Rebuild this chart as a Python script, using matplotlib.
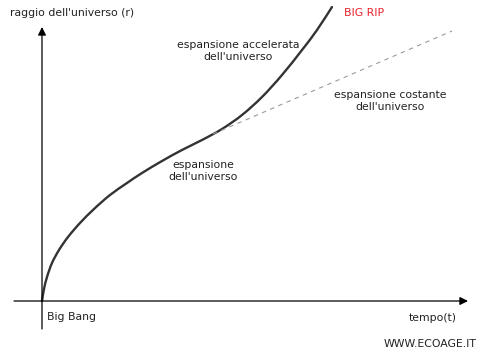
import matplotlib.pyplot as plt
from matplotlib.path import Path
from matplotlib.patches import PathPatch

# curva del raggio dell'universo (tempo, raggio)
tempo = [0, 2, 5, 10, 17, 26, 38, 52, 68, 85, 100, 120, 140, 160, 180, 200,
         220, 240, 260, 275, 290]
raggio = [0, 12, 24, 38, 51, 64, 78, 92, 106, 118, 128, 140, 151, 161, 172,
          186, 204, 226, 251, 271, 294]

# espansione costante (tratteggiata)
tempo_cost = [171, 410]
raggio_cost = [167, 270]

fig = plt.figure(figsize=(5, 3.6), dpi=100)
ax = fig.add_axes([0, 0, 1, 1])
ax.set_xlim(-42, 458)
ax.set_ylim(-59, 301)
ax.axis("off")

# assi con frecce
freccia = dict(arrowstyle="-|>", color="black", lw=0.9,
               mutation_scale=12, shrinkA=0, shrinkB=0)
ax.annotate("", xy=(426, 0), xytext=(-28, 0), arrowprops=freccia)
ax.annotate("", xy=(0, 274), xytext=(0, -28), arrowprops=freccia)

# tratteggiata
ax.plot(tempo_cost, raggio_cost, color="#9a9a9a", lw=0.8, dashes=(4, 4))

# curva morbida (catmull-rom -> bezier) attraverso i punti letti
pts = list(zip(tempo, raggio))
verts = [pts[0]]
codes = [Path.MOVETO]
for i in range(len(pts) - 1):
    p0 = pts[i - 1] if i > 0 else pts[i]
    p1 = pts[i]
    p2 = pts[i + 1]
    p3 = pts[i + 2] if i + 2 < len(pts) else pts[i + 1]
    c1 = (p1[0] + (p2[0] - p0[0]) / 6, p1[1] + (p2[1] - p0[1]) / 6)
    c2 = (p2[0] - (p3[0] - p1[0]) / 6, p2[1] - (p3[1] - p1[1]) / 6)
    verts += [c1, c2, p2]
    codes += [Path.CURVE4] * 3
ax.add_patch(PathPatch(Path(verts, codes), fill=False, edgecolor="#333333",
                       lw=1.7, capstyle="round"))

fs = 7.8
c = "#222222"
ax.text(-32, 288, "raggio dell'universo (r)", fontsize=fs, color=c, va="center")
ax.text(302, 288, "BIG RIP", fontsize=fs, color="#e8202a", va="center")
ax.text(196, 250, "espansione accelerata\ndell'universo", fontsize=fs, color=c,
        ha="center", va="center", linespacing=1.35)
ax.text(348, 200, "espansione costante\ndell'universo", fontsize=fs, color=c,
        ha="center", va="center", linespacing=1.35)
ax.text(161, 130, "espansione\ndell'universo", fontsize=fs, color=c,
        ha="center", va="center", linespacing=1.35)
ax.text(5, -16, "Big Bang", fontsize=fs, color=c, va="center")
ax.text(415, -17, "tempo(t)", fontsize=fs, color=c, va="center", ha="right")
ax.text(435, -43, "WWW.ECOAGE.IT", fontsize=fs, color=c, va="center", ha="right")

fig.savefig("out.png", dpi=100)
